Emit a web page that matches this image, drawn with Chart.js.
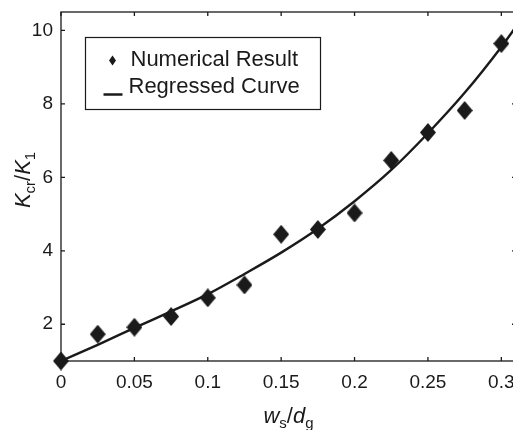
<!DOCTYPE html>
<html>
<head>
<meta charset="utf-8">
<script src="https://cdn.jsdelivr.net/npm/chart.js@4/dist/chart.umd.min.js"></script>
<style>
  html, body { margin: 0; padding: 0; background: #fff; overflow: hidden; }
  #wrap { width: 526px; height: 430px; }
</style>
</head>
<body>
<div id="wrap"><canvas id="chartCanvas" width="526" height="430"></canvas></div>
<script>
// data
const ratios = [0, 0.025, 0.05, 0.075, 0.1, 0.125, 0.15, 0.175, 0.2, 0.225, 0.25, 0.275, 0.3];
const numerical = [1.0, 1.73, 1.92, 2.21, 2.72, 3.07, 4.45, 4.58, 5.03, 6.46, 7.22, 7.82, 9.64];

const curveX = [0, 0.025, 0.05, 0.075, 0.1, 0.125, 0.15, 0.175, 0.2, 0.225, 0.25, 0.275, 0.3, 0.31];
const curveY = [1.0, 1.44, 1.9, 2.35, 2.82, 3.37, 3.95, 4.6, 5.35, 6.2, 7.2, 8.3, 9.55, 10.1];

const xTicks = [0, 0.05, 0.1, 0.15, 0.2, 0.25, 0.3];
const yTicks = [2, 4, 6, 8, 10];
const legendLabels = ['Numerical Result', 'Regressed Curve'];

const canvas = document.getElementById('chartCanvas');
const c = canvas.getContext('2d');
const ink = '#1a1a1a';
const font = '"Liberation Sans", Arial, Helvetica, sans-serif';

// tall diamond like matlab's 'd' marker
const makeDiamond = (w, h) => {
    const d = document.createElement('canvas');
    d.width = w; d.height = h;
    const g = d.getContext('2d');
    g.fillStyle = ink;
    g.beginPath();
    g.moveTo(w / 2, 0);
    g.lineTo(w, h / 2);
    g.lineTo(w / 2, h);
    g.lineTo(0, h / 2);
    g.closePath();
    g.fill();
    return d;
};
const bigDiamond = makeDiamond(16, 19);

// text with subscripts, pieces: [text, italic, sub]
const drawPieces = (ctx, pieces, size) => {
    let widths = pieces.map(p => {
        ctx.font = (p[1] ? 'italic ' : '') + (p[2] ? size * 0.68 : size) + 'px ' + font;
        return ctx.measureText(p[0]).width;
    });
    let total = widths.reduce((a, b) => a + b, 0);
    let x = -total / 2;
    pieces.forEach((p, i) => {
        ctx.font = (p[1] ? 'italic ' : '') + (p[2] ? size * 0.68 : size) + 'px ' + font;
        ctx.fillText(p[0], x, p[2] ? size * 0.22 : 0);
        x += widths[i];
    });
};

const framePlugin = {
    id: 'frame',
    afterDraw(chart) {
        const ctx = chart.ctx;
        const a = chart.chartArea;
        const xs = chart.scales.x, ys = chart.scales.y;
        ctx.save();
        ctx.strokeStyle = ink;
        ctx.lineWidth = 1.3;
        ctx.strokeRect(a.left, a.top, a.right - a.left, a.bottom - a.top);

        // inward ticks
        const tl = 4;
        ctx.beginPath();
        xTicks.forEach(v => {
            const px = xs.getPixelForValue(v);
            ctx.moveTo(px, a.bottom); ctx.lineTo(px, a.bottom - tl);
            ctx.moveTo(px, a.top); ctx.lineTo(px, a.top + tl);
        });
        yTicks.forEach(v => {
            const py = ys.getPixelForValue(v);
            ctx.moveTo(a.left, py); ctx.lineTo(a.left + tl, py);
            ctx.moveTo(a.right, py); ctx.lineTo(a.right - tl, py);
        });
        ctx.stroke();

        // legend box
        const lx = a.left + 24.5, ly = a.top + 25.5;
        ctx.fillStyle = '#fff';
        ctx.fillRect(lx, ly, 235, 72);
        ctx.lineWidth = 1.2;
        ctx.strokeRect(lx, ly, 235, 72);
        ctx.fillStyle = ink;
        ctx.beginPath();
        ctx.moveTo(lx + 27, ly + 18);
        ctx.lineTo(lx + 30.5, ly + 23);
        ctx.lineTo(lx + 27, ly + 28);
        ctx.lineTo(lx + 23.5, ly + 23);
        ctx.closePath();
        ctx.fill();
        ctx.lineWidth = 2.5;
        ctx.beginPath();
        ctx.moveTo(lx + 18, ly + 57);
        ctx.lineTo(lx + 37, ly + 57);
        ctx.stroke();
        ctx.font = '22px ' + font;
        ctx.textBaseline = 'alphabetic';
        ctx.textAlign = 'left';
        ctx.fillText(legendLabels[0], lx + 45, ly + 28);
        ctx.fillText(legendLabels[1], lx + 43, ly + 55);

        // axis titles
        ctx.textAlign = 'left';
        ctx.save();
        ctx.translate((a.left + a.right) / 2, 423);
        drawPieces(ctx, [['w', true, false], ['s', false, true], ['/', false, false], ['d', true, false], ['g', false, true]], 22);
        ctx.restore();
        ctx.save();
        ctx.translate(30, 180);
        ctx.rotate(-Math.PI / 2);
        drawPieces(ctx, [['K', true, false], ['cr', false, true], ['/', false, false], ['K', true, false], ['1', false, true]], 22);
        ctx.restore();
        ctx.restore();
    }
};

const points = ratios.map((r, i) => ({ x: r, y: numerical[i] }));
const curve = curveX.map((r, i) => ({ x: r, y: curveY[i] }));

new Chart(c, {
    type: 'scatter',
    data: {
        datasets: [
            {
                label: legendLabels[0],
                data: points,
                pointStyle: bigDiamond,
                pointRadius: 8,
                clip: false,
                order: 0
            },
            {
                label: legendLabels[1],
                type: 'line',
                data: curve,
                showLine: true,
                borderColor: ink,
                borderWidth: 2.4,
                pointRadius: 0,
                fill: false,
                tension: 0.4,
                cubicInterpolationMode: 'monotone',
                clip: false,
                order: 1
            }
        ]
    },
    options: {
        responsive: false,
        animation: false,
        layout: { padding: { top: 12, right: 10, left: 0, bottom: 0 } },
        plugins: { legend: { display: false }, tooltip: { enabled: false } },
        scales: {
            x: {
                type: 'linear',
                min: 0, max: 0.31,
                afterBuildTicks: s => { s.ticks = xTicks.map(v => ({ value: v })); },
                afterFit: s => { s.height = 69; s.paddingLeft = 0; s.paddingRight = 0; },
                grid: { display: false, drawTicks: false },
                border: { display: false },
                ticks: { padding: 10, color: ink, font: { size: 19, family: font }, maxRotation: 0, callback: v => String(v) }
            },
            y: {
                type: 'linear',
                min: 1, max: 10.5,
                afterBuildTicks: s => { s.ticks = yTicks.map(v => ({ value: v })); },
                afterFit: s => { s.width = 61; s.paddingTop = 0; s.paddingBottom = 0; },
                grid: { display: false, drawTicks: false },
                border: { display: false },
                ticks: { padding: 8, color: ink, font: { size: 19, family: font }, callback: v => String(v) }
            }
        }
    },
    plugins: [framePlugin]
});
</script>
</body>
</html>
